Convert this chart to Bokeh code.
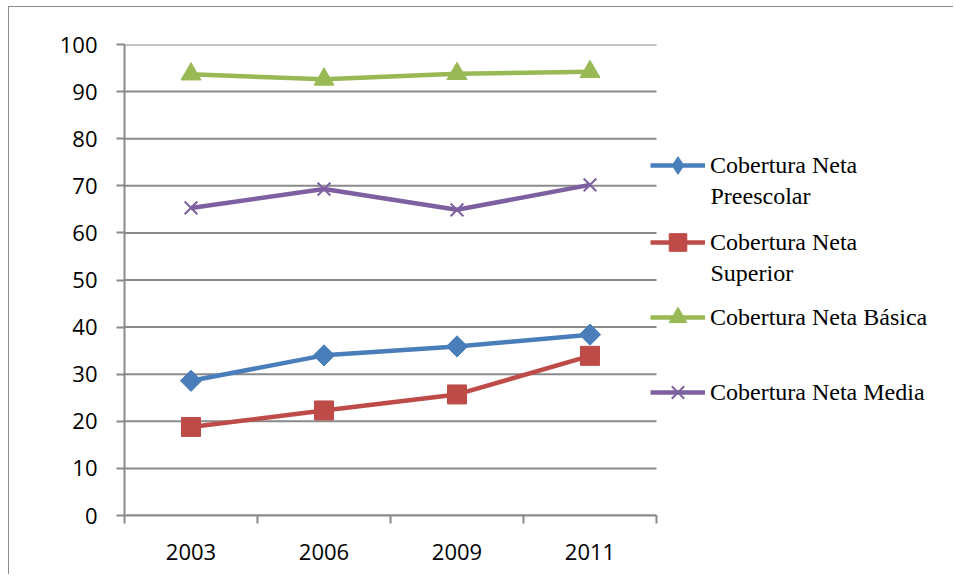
import math
from bokeh.plotting import figure
from bokeh.models import FixedTicker, Legend, LegendItem, Range1d, Label, ColumnDataSource
from bokeh.embed import file_html
from bokeh.resources import INLINE

years = ["2003", "2006", "2009", "2011"]
preescolar = [28.6, 34.0, 35.9, 38.4]
superior = [18.8, 22.3, 25.7, 33.9]
basica = [93.7, 92.6, 93.8, 94.2]
media = [65.3, 69.3, 64.9, 70.2]
y_ticks = [0, 10, 20, 30, 40, 50, 60, 70, 80, 90, 100]

n = len(years)
xs = [i + 0.5 for i in range(n)]
bounds = list(range(n + 1))

GRAY = "#8a8a8a"
FRAME_W = 830      # full frame width in px
PLOT_W = 532       # width of the category area in px
X_END = n * FRAME_W / PLOT_W

p = figure(width=945, height=568, output_backend="svg", toolbar_location=None,
           x_range=Range1d(0, X_END), y_range=Range1d(0, 100),
           min_border_left=115, min_border_right=0, min_border_top=37, min_border_bottom=60)
p.outline_line_color = None
p.background_fill_color = "white"
p.styles = {"border-left": "1px solid #8a8a8a", "border-top": "1px solid #8a8a8a",
            "margin-left": "8px", "margin-top": "6px"}

# horizontal gridlines across the category area only
p.segment(x0=[0] * len(y_ticks), x1=[n] * len(y_ticks), y0=y_ticks, y1=y_ticks,
          line_color=GRAY, line_width=2)
p.xgrid.visible = False
p.ygrid.visible = False

# axes
p.xaxis.bounds = (0, n)
p.xaxis.ticker = FixedTicker(ticks=xs, minor_ticks=bounds)
p.xaxis.major_label_overrides = {x: y for x, y in zip(xs, years)}
p.xaxis.major_tick_out = 0
p.xaxis.major_tick_in = 0
p.xaxis.minor_tick_out = 8
p.xaxis.minor_tick_in = 0
p.xaxis.minor_tick_line_color = GRAY
p.xaxis.minor_tick_line_width = 2
p.xaxis.major_label_standoff = 20

p.yaxis.ticker = FixedTicker(ticks=y_ticks)
p.yaxis.major_tick_out = 8
p.yaxis.major_tick_in = 0
p.yaxis.minor_tick_line_color = None
p.yaxis.major_tick_line_color = GRAY
p.yaxis.major_tick_line_width = 2
p.yaxis.major_label_standoff = 19

for ax in (p.xaxis, p.yaxis):
    ax.axis_line_color = GRAY
    ax.axis_line_width = 2
    ax.major_label_text_font = "Open Sans"
    ax.major_label_text_font_size = "22px"
    ax.major_label_text_color = "black"

# (label line 1, label line 2, values, colour, plot marker, size, angle, legend marker)
series = [
    ("Cobertura Neta", "Preescolar", preescolar, "#4a7ebb", "square", 15, math.pi / 4, "diamond"),
    ("Cobertura Neta", "Superior", superior, "#be4b48", "square", 19, 0, "square"),
    ("Cobertura Neta Básica", None, basica, "#98b954", "triangle", 20, 0, "triangle"),
    ("Cobertura Neta Media", None, media, "#7d60a0", "x", 18, 0, "x"),
]

# legend entry centres (px above the frame bottom)
legend_y = [350, 273, 198, 123]
LEG_X = 526
GH = 44
FONT = "Liberation Serif"
FSIZE = "24px"

for (label, line2, vals, color, marker, size, ang, lmarker), ly in zip(series, legend_y):
    src = ColumnDataSource(dict(x=xs, y=vals))
    r1 = p.line("x", "y", source=src, line_color=color, line_width=4.5)
    rleg = None
    if lmarker != marker:
        # diamond drawn beneath the rotated squares; used for the legend swatch
        rleg = p.scatter("x", "y", source=src, marker=lmarker, size=18,
                         fill_color=color, line_color=color)
    if marker == "x":
        r2 = p.scatter("x", "y", source=src, marker=marker, size=size,
                       line_color=color, line_width=2)
    else:
        r2 = p.scatter("x", "y", source=src, marker=marker, size=size, angle=ang,
                       fill_color=color, line_color=color)
    leg = Legend(items=[LegendItem(label=label, renderers=[r1, rleg or r2])],
                 location=(LEG_X, ly - GH / 2))
    leg.glyph_width = 55
    leg.glyph_height = GH
    leg.label_text_font = FONT
    leg.label_text_font_size = FSIZE
    leg.label_text_color = "black"
    leg.label_standoff = 5
    leg.padding = 0
    leg.margin = 0
    leg.border_line_color = None
    leg.background_fill_alpha = 0
    p.add_layout(leg, "center")
    if line2:
        p.add_layout(Label(x=LEG_X + 60, y=ly - 30, x_units="screen", y_units="screen",
                           text=line2, text_font=FONT, text_font_size=FSIZE,
                           text_baseline="middle", text_color="black"))

open("out.html", "w").write(file_html(p, INLINE))
